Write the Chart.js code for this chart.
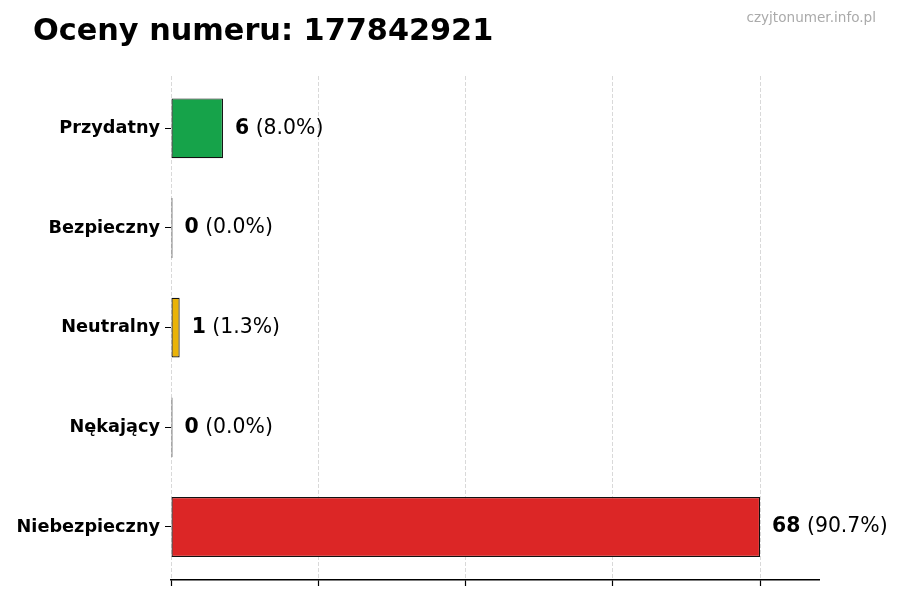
<!DOCTYPE html>
<html>
<head>
<meta charset="utf-8">
<script src="https://cdn.jsdelivr.net/npm/chart.js@4.4.1/dist/chart.umd.min.js"></script>
<style>
  html, body { margin: 0; padding: 0; background: #fff; }
  #wrap { position: relative; width: 900px; height: 600px; }
</style>
</head>
<body>
<div id="wrap"><canvas id="c" width="900" height="600"></canvas></div>
<script>
const categories = ["Przydatny", "Bezpieczny", "Neutralny", "Nękający", "Niebezpieczny"];
const counts = [6, 0, 1, 0, 68];
const percents = ["8.0%", "0.0%", "1.3%", "0.0%", "90.7%"];
const barColors = ["#16a34a", "#22c55e", "#eab308", "#f97316", "#dc2626"];
const xTicks = [0, 17, 34, 51, 68];
const xMax = 74.8;
const titleText = "Oceny numeru: 177842921";
const watermark = "czyjtonumer.info.pl";

const textPlugin = {
  id: 'texts',
  afterDatasetsDraw(chart) {
    const ctx = chart.ctx;
    const meta = chart.getDatasetMeta(0);
    ctx.save();
    ctx.textBaseline = 'middle';
    ctx.fillStyle = '#000';
    meta.data.forEach((bar, i) => {
      const x0 = Math.max(bar.x, bar.base) + 12;
      const y = bar.y;
      const bold = String(counts[i]);
      ctx.font = 'bold 20.4px "DejaVu Sans"';
      ctx.textAlign = 'left';
      ctx.fillText(bold, x0, y);
      const w = ctx.measureText(bold).width;
      ctx.font = '20.4px "DejaVu Sans"';
      ctx.fillText(' (' + percents[i] + ')', x0 + w, y);
    });
    ctx.restore();
  },
  afterDraw(chart) {
    const ctx = chart.ctx;
    ctx.save();
    ctx.textBaseline = 'alphabetic';
    ctx.textAlign = 'left';
    ctx.fillStyle = '#000';
    ctx.font = 'bold 30.3px "DejaVu Sans"';
    ctx.fillText(titleText, 33, 40);
    ctx.textAlign = 'right';
    ctx.fillStyle = '#aaaaaa';
    ctx.font = '13.6px "DejaVu Sans"';
    ctx.fillText(watermark, 876, 22);
    ctx.restore();
  }
};

new Chart(document.getElementById('c'), {
  type: 'bar',
  data: {
    datasets: [{
      data: counts.map((c, i) => ({ x: c, y: i })),
      backgroundColor: barColors,
      borderColor: '#111',
      borderWidth: 1.2,
      borderSkipped: false,
      minBarLength: 1.5,
      barPercentage: 0.6,
      categoryPercentage: 1.0
    }]
  },
  options: {
    indexAxis: 'y',
    responsive: false,
    animation: false,
    devicePixelRatio: 1,
    layout: { padding: { left: 0, right: 81, top: 76, bottom: 0 } },
    plugins: { legend: { display: false }, title: { display: false }, tooltip: { enabled: false } },
    scales: {
      x: {
        type: 'linear',
        min: 0,
        max: xMax,
        z: 1,
        afterBuildTicks: s => { s.ticks = xTicks.map(v => ({ value: v })); },
        afterFit: s => { s.height = 20; },
        ticks: { display: false },
        grid: {
          color: 'rgba(160,160,160,0.4)',
          lineWidth: 1,
          drawTicks: true,
          tickLength: 6,
          tickColor: '#000',
          tickBorderDash: [],
          tickWidth: 1.2
        },
        border: { display: true, color: '#000', width: 1.4, dash: [4, 2] }
      },
      y: {
        type: 'linear',
        offset: false,
        reverse: true,
        min: -0.525,
        max: 4.532,
        afterFit: s => { s.width = 171; },
        afterBuildTicks: s => { s.ticks = categories.map((_, i) => ({ value: i })); },
        ticks: {
          color: '#000',
          padding: 5,
          callback: v => categories[v],
          font: { family: '"DejaVu Sans"', size: 17.7, weight: 'bold' }
        },
        grid: { offset: false, drawOnChartArea: false, drawTicks: true, tickLength: 6, tickColor: '#000' },
        border: { display: false }
      }
    }
  },
  plugins: [textPlugin]
});
</script>
</body>
</html>
